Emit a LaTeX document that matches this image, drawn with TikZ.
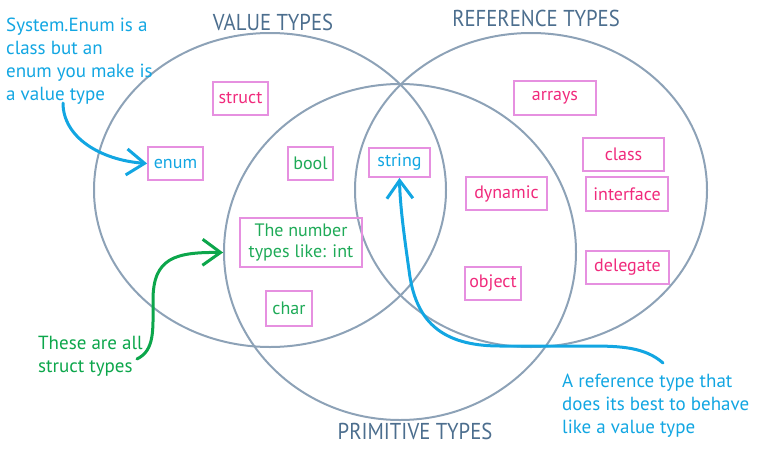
\documentclass[tikz,border=0pt]{standalone}
\usepackage{fontspec}
\setmainfont{PT Sans}
\newfontfamily\headfont[FakeStretch=0.9]{PT Sans}
\usetikzlibrary{arrows.meta,calc}

\definecolor{ringline}{HTML}{8DA2B7}
\definecolor{headink}{HTML}{4C6E8E}
\definecolor{boxline}{HTML}{E690E0}
\definecolor{refpink}{HTML}{F02A7C}
\definecolor{primgreen}{HTML}{1EAA57}
\definecolor{noteblue}{HTML}{12A6E2}
\definecolor{notegreen}{HTML}{0CA64B}

\begin{document}
\begin{tikzpicture}[x=1pt,y=-1pt,
  ring/.style={draw=ringline, line width=2pt},
  heading/.style={text=headink, inner sep=0pt, font=\headfont\fontsize{23}{23}\selectfont},
  typebox/.style={draw=boxline, line width=1.8pt, inner sep=0pt,
    minimum height=33pt, font=\fontsize{18}{21}\selectfont, align=center},
  reftype/.style={typebox, text=refpink},
  primtype/.style={typebox, text=primgreen},
  bothtype/.style={typebox, text=noteblue},
  note/.style={inner sep=0pt, anchor=north west, align=left,
    font=\fontsize{19}{23}\selectfont},
  pointer/.style={line width=3pt, line cap=round,
    -{Straight Barb[length=18pt,width=26pt,line width=3pt]}}
]
\useasboundingbox (0,0) rectangle (768,458);

% the three sets
\draw[ring] (270,190) ellipse [x radius=176pt, y radius=157pt];
\draw[ring] (531,190) ellipse [x radius=176pt, y radius=157pt];
\draw[ring] (400,252) ellipse [x radius=176pt, y radius=168pt];

% set names
\node[heading] (hvalue) at (273,22) {VALUE TYPES};
\node[heading] (href) at (536,18) {REFERENCE TYPES};
\node[heading] (hprim) at (415,431) {PRIMITIVE TYPES};

% value types
\node[reftype, minimum width=55pt] (struct) at (240.5,98.5) {struct};
\node[bothtype, minimum width=55pt] (enum) at (175.5,163.5) {enum};

% primitive value types
\node[primtype, minimum width=45pt] (bool) at (310.5,163.5) {bool};
\node[primtype, minimum width=122pt, minimum height=49pt] (number) at (301,242.5) {The number\\types like: int};
\node[primtype, minimum width=46pt, minimum height=35pt] (char) at (289,308.5) {char};

% primitive reference type
\node[bothtype, minimum width=61pt, minimum height=29pt] (string) at (399.5,162.5) {string};

% reference types
\node[reftype, minimum width=82pt, minimum height=34pt] (arrays) at (555,98) {arrays};
\node[reftype, minimum width=81pt] (class) at (623.5,154.5) {class};
\node[reftype, minimum width=82pt, minimum height=34pt] (interface) at (627,194) {interface};
\node[reftype, minimum width=81pt] (dynamic) at (506.5,193.5) {dynamic};
\node[reftype, minimum width=56pt] (object) at (493,283.5) {object};
\node[reftype, minimum width=83pt] (delegate) at (627.5,267.5) {delegate};

% notes
\node[note, text=noteblue] (enumnote) at (6,18)
  {System.Enum is a\\class but an\\enum you make is\\a value type};
\node[note, text=notegreen] (structnote) at (38,336)
  {These are all\\struct types};
\node[note, text=noteblue] (stringnote) at (562,374)
  {A reference type that\\does its best to behave\\like a value type};

% pointers from the notes
\coordinate (enumtail) at (63,103);
\coordinate (structtail) at (137,359);
\coordinate (stringtail) at (663,363);

\draw[pointer, noteblue] (enumtail) .. controls (63,137) and (100,160) .. (enum.west);
\draw[pointer, notegreen] (structtail) .. controls (155,350) and (153,330) .. (153,300)
  .. controls (153,258) and (175,252) .. ($(number.west)+(-16,10)$);
\draw[pointer, noteblue] (stringtail) .. controls (645,347) and (620,346) .. (590,346)
  -- (500,346) .. controls (440,346) and (415,320) .. (409,270)
  .. controls (404,235) and (400,205) .. (string.south);
\end{tikzpicture}
\end{document}
